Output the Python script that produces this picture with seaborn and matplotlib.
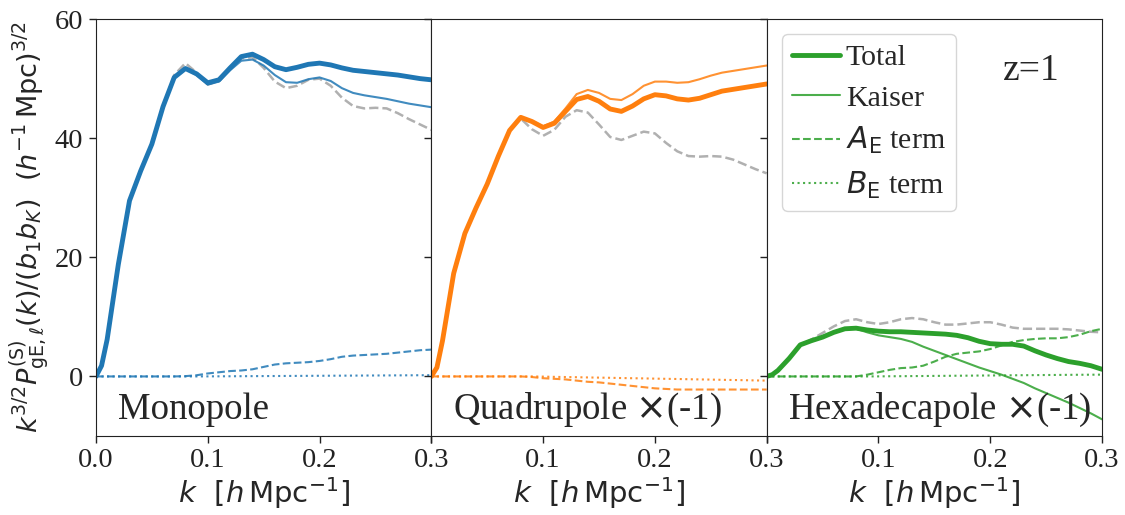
import numpy as np
import matplotlib
matplotlib.use("Agg")
import matplotlib.pyplot as plt
import seaborn as sns

# k grid [h/Mpc]
K = [0.0, 0.005, 0.01, 0.02, 0.03, 0.04, 0.05, 0.06, 0.07, 0.08, 0.09, 0.10, 0.11,
     0.12, 0.13, 0.14, 0.15, 0.16, 0.17, 0.18, 0.19, 0.20, 0.21, 0.22, 0.23, 0.24,
     0.25, 0.26, 0.27, 0.28, 0.29, 0.30]

# monopole
mono_total = [0, 1.8, 6.2, 18.8, 29.5, 34.5, 39.0, 45.3, 50.2, 51.7, 50.8, 49.3, 49.8,
              51.8, 53.7, 54.1, 53.2, 52.0, 51.5, 51.9, 52.4, 52.6, 52.3, 51.8, 51.4,
              51.2, 51.0, 50.8, 50.6, 50.3, 50.0, 49.8]
mono_kaiser = [0, 1.8, 6.2, 18.8, 29.5, 34.5, 39.0, 45.3, 50.2, 51.6, 50.6, 49.0, 49.5,
               51.4, 53.0, 53.2, 52.2, 50.6, 49.4, 49.3, 49.9, 50.2, 49.6, 48.4, 47.6,
               47.2, 46.9, 46.6, 46.2, 45.8, 45.5, 45.2]
mono_ref = [0, 1.8, 6.2, 18.8, 29.5, 34.5, 39.0, 45.3, 50.6, 52.6, 51.0, 49.0, 49.6,
            51.6, 53.4, 53.6, 51.8, 49.5, 48.4, 48.8, 49.8, 50.0, 48.8, 46.8, 45.4,
            45.0, 45.1, 45.0, 44.2, 43.2, 42.3, 41.4]
mono_AE = [0, 0, 0, 0, 0, 0, 0, 0, 0, 0.05, 0.2, 0.5, 0.7, 0.9, 1.0, 1.2, 1.6, 2.0,
           2.2, 2.3, 2.4, 2.6, 2.9, 3.3, 3.5, 3.6, 3.7, 3.8, 4.0, 4.2, 4.4, 4.5]
mono_BE = [0, 0, 0, 0, 0, 0, 0, 0, 0, 0, 0, 0.01, 0.02, 0.03, 0.04, 0.05, 0.06, 0.07,
           0.08, 0.09, 0.10, 0.11, 0.12, 0.13, 0.14, 0.15, 0.16, 0.17, 0.18, 0.19,
           0.20, 0.21]

# quadrupole x(-1)
quad_total = [0, 1.5, 6.0, 17.3, 24.0, 28.3, 32.3, 37.0, 41.3, 43.5, 42.8, 41.8, 42.5,
              44.5, 46.5, 47.0, 46.2, 44.9, 44.5, 45.4, 46.6, 47.3, 47.1, 46.6, 46.4,
              46.7, 47.3, 47.9, 48.2, 48.5, 48.8, 49.1]
quad_kaiser = [0, 1.5, 6.0, 17.3, 24.0, 28.3, 32.3, 37.0, 41.3, 43.5, 42.9, 42.0, 42.8,
               45.0, 47.4, 48.1, 47.6, 46.6, 46.4, 47.4, 48.8, 49.5, 49.5, 49.3, 49.4,
               49.9, 50.5, 51.0, 51.3, 51.6, 51.9, 52.2]
quad_ref = [0, 1.5, 6.0, 17.3, 24.0, 28.3, 32.3, 37.0, 41.3, 43.3, 41.5, 40.4, 41.4,
            43.6, 44.7, 44.3, 42.3, 40.2, 39.7, 40.4, 41.1, 40.8, 39.2, 37.8, 37.0,
            36.9, 37.0, 36.9, 36.4, 35.6, 34.8, 34.1]
quad_AE = [0, 0, 0, 0, 0, 0, 0, 0, 0, 0, -0.1, -0.3, -0.4, -0.5, -0.7, -0.9, -1.0,
           -1.2, -1.4, -1.6, -1.8, -2.0, -2.1, -2.2, -2.2, -2.2, -2.2, -2.2, -2.2,
           -2.2, -2.2, -2.2]
quad_BE = [0, 0, 0, 0, 0, 0, 0, 0, 0, 0, 0, -0.03, -0.07, -0.10, -0.13, -0.17, -0.20,
           -0.23, -0.27, -0.30, -0.33, -0.37, -0.40, -0.43, -0.47, -0.50, -0.53,
           -0.57, -0.60, -0.63, -0.67, -0.70]

# hexadecapole x(-1)
hexa_total = [0, 0.3, 1.0, 3.0, 5.3, 6.0, 6.6, 7.4, 8.0, 8.1, 7.8, 7.6, 7.5, 7.5, 7.4,
              7.3, 7.2, 7.1, 6.9, 6.5, 5.9, 5.5, 5.4, 5.4, 5.1, 4.3, 3.6, 3.0, 2.5,
              2.2, 1.8, 1.2]
hexa_kaiser = [0, 0.3, 1.0, 3.0, 5.3, 6.0, 6.6, 7.4, 8.0, 8.0, 7.4, 6.9, 6.6, 6.3, 5.8,
               5.0, 4.3, 3.6, 2.9, 2.2, 1.5, 0.9, 0.3, -0.4, -1.1, -2.0, -2.8, -3.6,
               -4.4, -5.3, -6.2, -7.2]
hexa_ref = [0, 0.3, 1.0, 3.0, 5.3, 6.2, 7.3, 8.4, 9.3, 9.6, 9.1, 8.8, 9.1, 9.6, 9.8,
            9.6, 9.1, 8.7, 8.7, 8.9, 9.1, 9.1, 8.7, 8.2, 8.0, 8.0, 8.0, 8.0, 7.9, 7.7,
            7.5, 7.4]
hexa_AE = [0, 0, 0, 0, 0, 0, 0, 0, 0, 0, 0.3, 0.7, 1.1, 1.4, 1.5, 1.8, 2.5, 3.3, 3.8,
           4.0, 4.2, 4.6, 5.2, 5.8, 6.1, 6.3, 6.4, 6.4, 6.6, 7.0, 7.6, 8.0]
hexa_BE = [0, 0, 0, 0, 0, 0, 0, 0, 0, 0, 0, 0.01, 0.03, 0.04, 0.06, 0.07, 0.09, 0.10,
           0.12, 0.13, 0.15, 0.16, 0.18, 0.19, 0.21, 0.22, 0.24, 0.25, 0.27, 0.28,
           0.29, 0.30]

panel_names = ["Monopole", "Quadrupole $\\times$(-1)", "Hexadecapole $\\times$(-1)"]
panel_colors = ["#1f77b4", "#ff7f0e", "#2ca02c"]
panels = [
    (mono_total, mono_kaiser, mono_ref, mono_AE, mono_BE),
    (quad_total, quad_kaiser, quad_ref, quad_AE, quad_BE),
    (hexa_total, hexa_kaiser, hexa_ref, hexa_AE, hexa_BE),
]

sns.set_style("ticks")
plt.rcParams['font.family'] = 'serif'
plt.rcParams['font.serif'] = ['Liberation Serif', 'DejaVu Serif']
plt.rcParams['mathtext.fontset'] = 'dejavusans'
plt.rcParams['axes.edgecolor'] = '#222222'
plt.rcParams['xtick.color'] = '#222222'
plt.rcParams['ytick.color'] = '#222222'

fig, axes = plt.subplots(1, 3, figsize=(11.25, 5.15), dpi=100, sharey=True)
fig.subplots_adjust(left=0.0853, right=0.9796, top=0.963, bottom=0.1534, wspace=0)

for i, (ax, name, c, data) in enumerate(zip(axes, panel_names, panel_colors, panels)):
    total, kaiser, ref, ae, be = data
    sns.lineplot(x=K, y=ref, ax=ax, color='#b0b0b0', linewidth=1.8, linestyle='--')
    sns.lineplot(x=K, y=be, ax=ax, color=c, linewidth=1.5, linestyle=':', alpha=0.85)
    sns.lineplot(x=K, y=ae, ax=ax, color=c, linewidth=1.5, linestyle='--', alpha=0.85)
    sns.lineplot(x=K, y=kaiser, ax=ax, color=c, linewidth=1.5, alpha=0.85)
    sns.lineplot(x=K, y=total, ax=ax, color=c, linewidth=3.5)

    ax.set_xlim(0, 0.3)
    ax.set_ylim(-10, 60)
    ax.set_xticks([0.0, 0.1, 0.2, 0.3])
    if i == 0:
        ax.set_xticklabels(['0.0', '0.1', '0.2', '0.3'])
    else:
        ax.set_xticklabels(['', '0.1', '0.2', '0.3'])
    ax.set_yticks([0, 20, 40, 60])
    ax.tick_params(direction='out', length=5, width=1, labelsize=20.5, pad=4)
    ax.set_xlabel(r'$k\ \ [h\,\mathrm{Mpc}^{-1}]$', fontsize=21, labelpad=1)
    ax.text(0.065, 0.04, name, transform=ax.transAxes, fontsize=26.5,
            ha='left', va='baseline')

axes[0].set_ylabel(r'$k^{3/2}P^{(\mathrm{S})}_{\mathrm{gE},\ell}(k)/(b_1b_K)\ \ (h^{-1}\,\mathrm{Mpc})^{3/2}$',
                   fontsize=19.5, labelpad=2)

# legend in the hexadecapole panel
g = panel_colors[2]
handles = [
    plt.Line2D([], [], color=g, linewidth=3.5),
    plt.Line2D([], [], color=g, linewidth=1.5, alpha=0.85),
    plt.Line2D([], [], color=g, linewidth=1.5, linestyle='--', alpha=0.85),
    plt.Line2D([], [], color=g, linewidth=1.5, linestyle=':', alpha=0.85),
]
labels = ['Total', 'Kaiser', r'$A_{\mathrm{E}}$ term', r'$B_{\mathrm{E}}$ term']
axes[2].legend(handles, labels, loc='upper left', fontsize=21.5, frameon=True,
               handlelength=1.6, handletextpad=0.2, labelspacing=0.45,
               borderaxespad=0.5, borderpad=0.35)
axes[2].text(0.79, 0.875, 'z=1', transform=axes[2].transAxes, fontsize=27,
             ha='center', va='center')

fig.savefig('out.png', dpi=100)
